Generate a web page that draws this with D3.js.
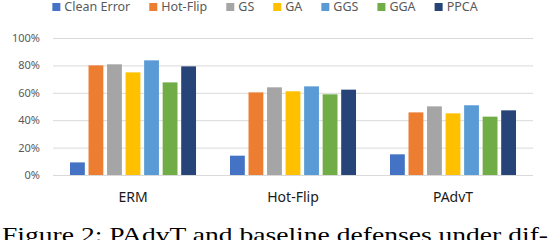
<!DOCTYPE html>
<html>
<head>
<meta charset="utf-8">
<script src="https://cdn.jsdelivr.net/npm/d3@7"></script>
<style>
  html, body { margin: 0; padding: 0; background: #fff; }
  svg { display: block; }
</style>
</head>
<body>
<svg id="chart"></svg>
<script>
// defense settings (x categories)
var categories = ["ERM", "Hot-Flip", "PAdvT"];
// attacks / legend entries
var series = ["Clean Error", "Hot-Flip", "GS", "GA", "GGS", "GGA", "PPCA"];
// error rate per series, one value per category
var cleanError = [0.092, 0.141, 0.151];
var hotFlip    = [0.800, 0.603, 0.457];
var gs         = [0.808, 0.640, 0.501];
var ga         = [0.749, 0.611, 0.450];
var ggs        = [0.837, 0.647, 0.509];
var gga        = [0.676, 0.589, 0.426];
var ppca       = [0.793, 0.623, 0.472];
var yTicks = [0, 0.2, 0.4, 0.6, 0.8, 1.0];
var caption = "Figure 2: PAdvT and baseline defenses under dif-";

var colors = ["#4472C4", "#ED7D31", "#A5A5A5", "#FFC000", "#5B9BD5", "#70AD47", "#264478"];
var values = [cleanError, hotFlip, gs, ga, ggs, gga, ppca];

var setup = {
  width: 548,
  height: 240,
  left: 53,
  right: 533,
  top: 38,
  bottom: 175
};

var svg = d3.select("#chart")
  .attr("width", setup.width)
  .attr("height", setup.height);

var x0 = d3.scaleBand()
  .domain(categories)
  .range([setup.left, setup.right])
  .paddingInner(0.1775)
  .paddingOuter(0.0888);

var x1 = d3.scaleBand()
  .domain(series)
  .range([0, x0.bandwidth()])
  .paddingInner(0.2)
  .paddingOuter(0.15);

var y = d3.scaleLinear()
  .domain([0, 1])
  .range([setup.bottom, setup.top]);

// gridlines + tick labels
var yAxis = d3.axisLeft(y)
  .tickValues(yTicks)
  .tickFormat(d3.format(".0%"))
  .tickSize(-(setup.right - setup.left))
  .tickPadding(13);

var gy = svg.append("g")
  .attr("transform", "translate(" + setup.left + ",0)")
  .call(yAxis);
gy.select(".domain").remove();
gy.selectAll(".tick line")
  .attr("stroke", "#d9d9d9")
  .attr("stroke-width", 1);
gy.selectAll(".tick text")
  .attr("fill", "#595959")
  .style("font-family", "'Noto Sans', sans-serif")
  .style("font-size", "11px");

// bars
var rows = [];
series.forEach(function (s, i) {
  categories.forEach(function (c, j) {
    rows.push({ series: s, cat: c, value: values[i][j], color: colors[i] });
  });
});

svg.append("g").selectAll("rect")
  .data(rows)
  .join("rect")
  .attr("x", d => x0(d.cat) + x1(d.series))
  .attr("y", d => y(d.value))
  .attr("width", x1.bandwidth())
  .attr("height", d => y(0) - y(d.value))
  .attr("fill", d => d.color);

// category labels
var xAxis = d3.axisBottom(x0).tickSize(0).tickPadding(17);
var gx = svg.append("g")
  .attr("transform", "translate(0," + setup.bottom + ")")
  .call(xAxis);
gx.select(".domain").remove();
gx.selectAll(".tick text")
  .attr("fill", "#1a1a1a")
  .style("font-family", "'Noto Sans', sans-serif")
  .style("font-size", "14px");

// legend
var legend = svg.append("g");
var items = legend.selectAll("g")
  .data(series)
  .join("g");
items.append("rect")
  .attr("y", 3)
  .attr("width", 8)
  .attr("height", 8)
  .attr("fill", (d, i) => colors[i]);
items.append("text")
  .attr("x", 12)
  .attr("y", 11.3)
  .attr("fill", "#595959")
  .style("font-family", "'Noto Sans', sans-serif")
  .style("font-size", "12.5px")
  .text(d => d);

var pos = 0;
items.each(function () {
  var w = d3.select(this).select("text").node().getComputedTextLength();
  d3.select(this).attr("transform", "translate(" + pos + ",0)");
  pos += 12 + w + 19;
});
var legendWidth = pos - 19;
legend.attr("transform", "translate(" + (265 - legendWidth / 2) + ",0)");

// caption (cut off at the bottom edge)
svg.append("text")
  .attr("x", 2)
  .attr("y", 242)
  .attr("textLength", 546)
  .attr("lengthAdjust", "spacingAndGlyphs")
  .attr("fill", "#000")
  .style("font-family", "'Liberation Serif', 'Times New Roman', serif")
  .style("font-size", "22px")
  .text(caption);
</script>
</body>
</html>
